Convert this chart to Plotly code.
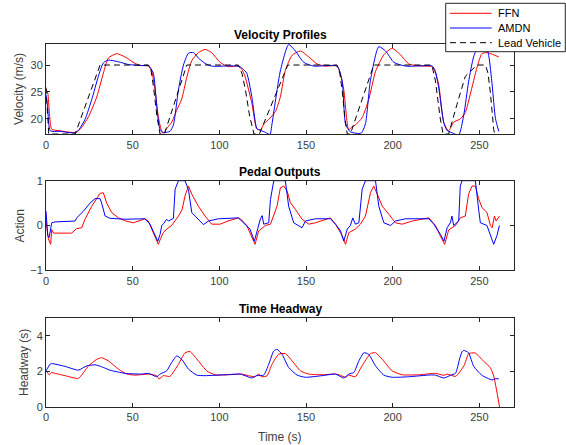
import plotly.graph_objects as go

# ---------------- data ----------------
lead_t = [0, 0.8, 1.6, 16.8, 31.2, 59.1, 60.5, 62, 64, 65.8, 68.3, 81.2, 111, 113, 115, 117.5, 120,
          123.1, 139.5, 167.9, 169.5, 171, 172.5, 173.8, 175.6, 189.1, 222.6, 224.6, 227.5, 229.1,
          232.3, 237.1, 241.9, 243.8, 248.7, 253.5, 255, 256.4, 258.3, 259, 260]
lead_v = [25.8, 21, 17.2, 17.2, 30, 30, 29.2, 26, 20.5, 17.2, 17.2, 30, 30, 28.5, 25.5, 20.5, 17.2,
          17.2, 30, 30, 28.5, 25, 20, 17.2, 17.2, 30, 30, 27.2, 20, 17.2,
          17.2, 22.7, 27.9, 28.5, 30, 30, 28.5, 24.8, 18, 17.2, 17.2]

ffn_vel_t = [0, 1, 2, 3.3, 8, 16.8, 20, 24.5, 29.3, 33.1, 36, 40.8, 45.6, 51.4, 55, 59.1, 61, 62.9, 64.8,
             66.8, 67.5, 69.6, 72.5, 75.4, 78.3, 81.2, 84.1, 87.9, 91.8, 95.6, 100.4, 105.2, 111, 113,
             114.8, 118.7, 121.6, 123.7, 126, 128.5, 132.4, 135.2, 138.1, 142, 146.8, 151.6, 156.4,
             161.2, 168, 170, 171.8, 173.5, 174.6, 176.5, 178.5, 182.3, 186.2, 190.1, 194.9, 199.7,
             204.5, 209.3, 217, 222.8, 224.7, 226.6, 229.5, 232.3, 235.2, 239, 241.9, 244.8, 248.7,
             251.5, 254.4, 257.4, 261.2]
ffn_vel = [25.5, 24.8, 21, 18.1, 17.8, 17.5, 18.2, 20.4, 24.1, 28.5, 31.3, 32.1, 31.5, 30.3, 29.9, 29.8,
           28.8, 25.4, 20.4, 17.6, 17.3, 18.2, 19.4, 21.6, 23.7, 27.7, 30.8, 32.3, 32.9, 32.3, 30.5,
           29.7, 29.8, 29.2, 27.9, 23, 18.2, 18, 19.2, 19.9, 21.4, 24.1, 29, 31.8, 32.6, 31.5, 30.2,
           29.8, 29.8, 28, 25.4, 20, 18, 18.5, 18.9, 20.2, 23.6, 28.8, 31.9, 33.1,
           31.9, 30.2, 29.8, 29.7, 28.5, 26.3, 19.3, 17.8, 19.4, 20, 21.2, 24.6, 29.6,
           32.1, 32.3, 32, 31.5]

amdn_vel_t = [0, 1, 2.5, 8, 17, 19, 22.5, 26.4, 30.2, 33.1, 36, 41.8, 47.5, 55, 59.1, 61.9, 63.9, 65.8,
              67.7, 71.5, 73.5, 76.4, 79.3, 82.2, 85.1, 87.9, 91.8, 95.6, 111, 113.5, 115.8, 118.7,
              121.6, 122.7, 126, 128.5, 129.3, 130.4, 135.2, 140, 143.9, 148.7, 154.5, 167.9, 170.8,
              172.8, 175.6, 180.5, 182, 184.3, 187.2, 192, 195.9, 200.7, 207.5, 222.8, 224.5, 226.6,
              229.5, 231.3, 235.2, 238.1, 241, 243.8, 246.7, 249.6, 253.5, 255.4, 257.4, 259.3, 261.2]
amdn_vel = [24.5, 22, 17.8, 17.7, 17.4, 18, 19.9, 23.6, 27.9, 30.4, 30.9, 30.6, 30.1, 29.9, 29.9, 28.5,
            22.3, 18, 17.5, 17.7, 18.9, 25.4, 30, 32.2, 32.3, 31.3, 30.3, 29.8, 29.8, 29.3, 28.5, 24.2,
            18.2, 18, 17.6, 17.2, 17.1, 19.1, 28.9, 33.8, 32.6, 30.5, 29.8, 29.8, 27.2,
            19.1, 17.6, 17.3, 17.4, 19.1, 27.2, 33.4, 32.6, 30.5, 29.8, 29.8, 29, 25.7,
            19.3, 17.9, 17.3, 17.0, 20.7, 26.9, 31.5, 33.6, 33.8, 31.8, 26.3, 20.1, 17.7]

ffn_act_t = [0, 1.4, 2.7, 3.3, 4.3, 14.8, 17.7, 20.6, 22.5, 26.4, 31.2, 33.1, 35, 37.9, 41.8, 46, 50.4,
             57.1, 59, 61, 63, 64.8, 66, 67.7, 69.6, 72.5, 76.4, 78.5, 80.2, 82.2, 84.1, 87.9, 91.8,
             95.6, 100.4, 105, 111, 113, 115.8, 118.7, 120.6, 122.7, 126.6, 129.5, 131.4, 133.3, 135.2,
             137.2, 139.1, 141, 143.9, 147.7, 151.6, 155.4, 164.1, 167, 170.5, 172.8, 174.7, 178.5,
             181.4, 184.3, 187.2, 189.1, 191.1, 194, 197.8, 201.6, 205.5, 211.3, 220.9, 224.7, 227.6,
             230, 232.3, 236.2, 239, 241.9, 243.8, 245.8, 247.7, 249.6, 251.5, 254.4, 256.4, 257.4,
             258.7, 259.7, 261.6]
ffn_act = [0.1, -0.3, -0.42, -0.09, -0.17, -0.17, -0.07, -0.05, 0.14, 0.43, 0.72, 0.73, 0.5, 0.29, 0.17,
           0.1, 0.06, 0.15, 0.1, -0.08, -0.25, -0.42, -0.3, -0.16, -0.08, 0, 0.21, 0.35, 0.66, 0.88, 0.7,
           0.43, 0.21, 0.03, 0.03, 0.1, 0.17, 0.12, 0, -0.24, -0.42, -0.12, 0, 0.03, 0.21, 0.43, 0.84,
           0.88, 0.77, 0.51, 0.36, 0.14, 0.03, 0.06, 0.17, 0.03, -0.2, -0.42, -0.16, -0.08,
           0.03, 0.21, 0.73, 0.88, 0.7, 0.43, 0.25, 0.06, 0.03, 0.1, 0.17, 0, -0.24,
           -0.42, -0.1, 0, 0.17, 0.21, 0.7, 0.88, 0.88, 0.6, 0.4, 0.29, 0, -0.05,
           0.21, 0.1, 0.21]

amdn_act_t = [0, 1, 1.8, 3.3, 5.2, 16.8, 17.7, 21.6, 25.4, 28.3, 31.2, 32.1, 34.1, 37, 45.6, 57.1, 60,
              62.9, 64.5, 65.8, 66.8, 68, 69.6, 70.6, 73.5, 74.5, 76.4, 80.2, 82.2, 84.1, 87.9, 90.8,
              93.7, 99.5, 111, 113.9, 117.7, 120.2, 122.5, 123.7, 124.7, 125.6, 128.5, 129.5, 131.4,
              138.1, 140, 142.9, 147.7, 149.7, 155.4, 164.1, 167, 169.9, 171.8, 173.8, 175.6, 177,
              178.5, 180.5, 182.4, 184.3, 190.1, 192, 194.9, 198.8, 201.6, 207.4, 220.9, 223.7, 227.6,
              229.6, 231.4, 233.3, 234.2, 235.2, 238.1, 239, 240, 247.7, 249.6, 250.6, 254.4, 256.4,
              258.3, 260.2, 261.6]
amdn_act = [0.32, -0.23, -0.27, 0.06, 0.08, 0.1, 0.17, 0.32, 0.5, 0.6, 0.6, 0.5, 0.21, 0.16, 0.14, 0.15,
            0.03, -0.2, -0.35, -0.2, 0, 0.05, 0.14, 0.1, 0.16, 0.81, 1.0, 1.0, 0.8, 0.29, 0.14, 0.02,
            0.1, 0.15, 0.17, 0.06, -0.08, -0.35, 0, 0.15, 0.22, 0.03, 0.06, 0.58, 1.0,
            1.0, 0.43, 0.06, -0.05, 0.1, 0.15, 0.15, 0.03, -0.12, -0.35, -0.08, 0, 0.17,
            0.03, 0.06, 0.81, 1.0, 1.0, 0.43, 0.06, 0, 0.1, 0.15, 0.15, 0.03, -0.2,
            -0.35, -0.05, 0.06, 0.21, 0, 0.1, 0.88, 1.0, 1.0, 0.36, 0.06, 0, -0.22,
            -0.42, -0.22, 0]

ffn_hw_t = [0, 1.9, 3.1, 5.2, 11, 18.7, 24.5, 29.3, 32.1, 36, 41.8, 46.6, 51.4, 59.1, 63.9, 65.2, 67.7,
            71.5, 76.4, 80.2, 83.1, 87.9, 92.7, 97.5, 105.2, 112.9, 116.8, 120.6, 122.5, 124.6, 127.5,
            130.4, 134.2, 138.1, 142, 146.8, 151.6, 159.3, 167, 169.9, 172.8, 174.7, 178.5, 182.3,
            187.2, 190.1, 194, 199.7, 205.5, 215.1, 224.7, 229.6, 231.5, 236.3, 241.1, 243.8, 245,
            247.7, 252.5, 256.4, 258.3, 261.7]
ffn_hw = [2.03, 1.81, 1.94, 1.89, 1.76, 1.61, 2.31, 2.68, 2.77, 2.59, 2.13, 1.85, 1.79, 1.85, 1.76, 1.57,
          1.76, 1.72, 2.4, 3.05, 3.11, 2.59, 2.03, 1.81, 1.81, 1.85, 1.76, 1.70, 1.85, 1.70, 1.75,
          2.4, 2.96, 3.0, 2.59, 2.03, 1.85, 1.81, 1.85, 1.78, 1.67, 1.79, 1.70, 2.31,
          3.0, 3.05, 2.68, 2.03, 1.81, 1.81, 1.89, 1.78, 1.85, 1.72, 2.31, 3.0, 3.03,
          3.03, 2.57, 2.2, 1.74, 0.0]

amdn_hw_t = [0, 2.35, 3.3, 11, 18.7, 23.5, 28.3, 32.1, 36.9, 45.6, 55.2, 59.1, 63.9, 65.8, 69.6, 72.5,
             75.4, 78.3, 82.2, 87, 91.8, 103.3, 112, 114.8, 118.7, 121.6, 125.6, 128.5, 131.4, 133.3,
             136.2, 140, 144.9, 149.7, 159.3, 167, 171.8, 174.7, 177.6, 180.5, 183.4, 186.2, 190.1,
             194.9, 199.7, 209.3, 221.7, 224.7, 229.5, 233.3, 236.3, 238.6, 240, 241, 243.8, 246.7,
             251.5, 257.3, 259, 261.2]
amdn_hw = [2.03, 2.4, 2.44, 2.28, 2.07, 2.31, 2.37, 2.26, 2.07, 1.89, 1.85, 1.89, 1.70, 1.85, 2.03, 2.5,
           2.87, 2.68, 2.13, 1.79, 1.76, 1.81, 1.85, 1.76, 1.63, 1.76, 1.79, 2.4, 3.15, 3.24,
           2.96, 2.22, 1.79, 1.67, 1.76, 1.85, 1.63, 1.85, 1.94, 2.59, 3.05, 2.96, 2.31,
           1.79, 1.67, 1.70, 1.80, 1.79, 1.63, 1.78, 1.9, 2.7, 3.1, 3.18, 3.05, 2.29,
           1.78, 1.52, 1.58, 1.59]

x_ticks = [0, 50, 100, 150, 200, 250]
vel_ticks = [20, 25, 30]
act_ticks = [-1, 0, 1]
hw_ticks = [0, 2, 4]
legend_labels = ["FFN", "AMDN", "Lead Vehicle"]
titles = ["Velocity Profiles", "Pedal Outputs", "Time Headway"]

RED = "#ff0000"
BLUE = "#0000ff"
AX = "#262626"
FONT = "Liberation Sans, Arial, sans-serif"

# ---------------- geometry (px -> paper) ----------------
W, H = 566, 445
ML, MR, MT, MB = 46, 52, 44, 38
PW, PH = W - ML - MR, H - MT - MB


def px_x(px):
    return (px - ML) / PW


def px_y(py):
    return (H - MB - py) / PH


fig = go.Figure()

# velocity
fig.add_trace(go.Scatter(x=ffn_vel_t, y=ffn_vel, mode="lines", line=dict(color=RED, width=1, shape="spline", smoothing=0.6),
                         xaxis="x", yaxis="y", showlegend=False, name="FFN"))
fig.add_trace(go.Scatter(x=amdn_vel_t, y=amdn_vel, mode="lines", line=dict(color=BLUE, width=1, shape="spline", smoothing=0.6),
                         xaxis="x", yaxis="y", showlegend=False, name="AMDN"))
fig.add_trace(go.Scatter(x=lead_t, y=lead_v, mode="lines", line=dict(color="#000000", width=1, dash="6px,4px"),
                         xaxis="x", yaxis="y", showlegend=False, name="Lead Vehicle"))
# pedal
fig.add_trace(go.Scatter(x=ffn_act_t, y=ffn_act, mode="lines", line=dict(color=RED, width=1),
                         xaxis="x2", yaxis="y2", showlegend=False, name="FFN"))
fig.add_trace(go.Scatter(x=amdn_act_t, y=amdn_act, mode="lines", line=dict(color=BLUE, width=1),
                         xaxis="x2", yaxis="y2", showlegend=False, name="AMDN"))
# headway
fig.add_trace(go.Scatter(x=ffn_hw_t, y=ffn_hw, mode="lines", line=dict(color=RED, width=1, shape="spline", smoothing=0.5),
                         xaxis="x3", yaxis="y3", showlegend=False, name="FFN"))
fig.add_trace(go.Scatter(x=amdn_hw_t, y=amdn_hw, mode="lines", line=dict(color=BLUE, width=1, shape="spline", smoothing=0.5),
                         xaxis="x3", yaxis="y3", showlegend=False, name="AMDN"))

common = dict(showline=True, linecolor=AX, linewidth=1, mirror="ticks", ticks="inside", ticklen=4,
              tickcolor=AX, showgrid=False, zeroline=False,
              tickfont=dict(family=FONT, size=11, color="#404040"))

doms = [
    [px_y(134.3), 1.0],
    [px_y(270.3), px_y(180.7)],
    [0.0, px_y(318)],
]

layout = dict(
    width=W, height=H,
    margin=dict(l=ML, r=MR, t=MT, b=MB),
    paper_bgcolor="white", plot_bgcolor="white",
    showlegend=False,
    font=dict(family=FONT, color="#262626"),
)
for i, (yr, yt) in enumerate([([17.15, 33.9], vel_ticks), ([-1, 1], act_ticks), ([0, 5], hw_ticks)]):
    sfx = "" if i == 0 else str(i + 1)
    layout["xaxis" + sfx] = dict(common, domain=[0, 1], range=[0, 270], tickvals=x_ticks,
                                 anchor="y" + sfx)
    layout["yaxis" + sfx] = dict(common, domain=doms[i], range=yr, tickvals=yt,
                                 anchor="x" + sfx)

fig.update_layout(**layout)

ann = []
for i, t in enumerate(titles):
    sfx = "" if i == 0 else str(i + 1)
    ann.append(dict(text="<b>" + t + "</b>", xref="x" + sfx + " domain", yref="y" + sfx + " domain",
                    x=0.5, y=1, xanchor="center", yanchor="bottom", yshift=0, showarrow=False,
                    font=dict(family=FONT, size=12, color="#000000")))

ylabels = [("Velocity (m/s)", 18.8), ("Action", 19.9), ("Headway (s)", 23.5)]
for i, (t, xp) in enumerate(ylabels):
    sfx = "" if i == 0 else str(i + 1)
    ann.append(dict(text=t, xref="paper", yref="y" + sfx + " domain", x=px_x(xp), y=0.5,
                    xanchor="center", yanchor="middle", textangle=-90, showarrow=False,
                    font=dict(family=FONT, size=12, color="#404040")))
ann.append(dict(text="Time (s)", xref="paper", yref="paper", x=0.5, y=px_y(437),
                xanchor="center", yanchor="middle", showarrow=False,
                font=dict(family=FONT, size=12, color="#404040")))

# manual legend (MATLAB style box)
shapes = [dict(type="rect", xref="paper", yref="paper", x0=px_x(445.7), x1=px_x(565.3),
               y0=px_y(51.7), y1=px_y(3.3), line=dict(color=AX, width=1), fillcolor="white",
               layer="above")]
leg_styles = [dict(color=RED, width=1), dict(color=BLUE, width=1), dict(color="#000000", width=1, dash="6px,4px")]
for k, (lab, st) in enumerate(zip(legend_labels, leg_styles)):
    ypx = 13.3 + k * 14.7
    shapes.append(dict(type="line", xref="paper", yref="paper", x0=px_x(450), x1=px_x(491.7),
                       y0=px_y(ypx), y1=px_y(ypx), line=st, layer="above"))
    ann.append(dict(text=lab, xref="paper", yref="paper", x=px_x(495.5), y=px_y(ypx),
                    xanchor="left", yanchor="middle", showarrow=False,
                    font=dict(family=FONT, size=11, color="#000000")))

fig.update_layout(annotations=ann, shapes=shapes)
fig.write_html("out.html")
